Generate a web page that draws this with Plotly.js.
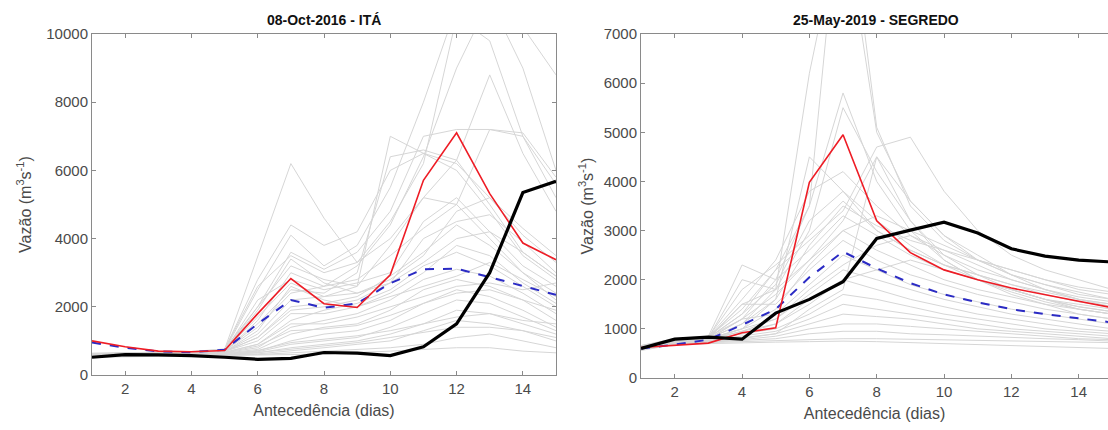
<!DOCTYPE html>
<html>
<head>
<meta charset="utf-8">
<script src="https://cdn.plot.ly/plotly-3.0.1.min.js"></script>
<style>html,body{margin:0;padding:0;background:#fff;}#chart{width:1108px;height:430px;}</style>
</head>
<body>
<div id="chart"></div>
<script>
// ---- Data ----
const days = [1,2,3,4,5,6,7,8,9,10,11,12,13,14,15];
const xTicks = [2,4,6,8,10,12,14];

const titleIta = "08-Oct-2016 - ITÁ";
const titleSegredo = "25-May-2019 - SEGREDO";
const xTitle = "Antecedência (dias)";
const yTitle = "Vazão (m<sup>3</sup>s<sup>-1</sup>)";

// ITÁ
const itaObserved = [520,600,590,570,520,460,490,660,640,570,830,1500,3000,5350,5680];
const itaForecast = [1000,830,700,680,720,1800,2830,2090,1980,2940,5710,7100,5320,3870,3380];
const itaMean     = [950,800,690,670,740,1500,2200,1970,2100,2690,3100,3120,2870,2620,2350];
const itaMembers = [
  [620,640,650,680,750,3500,6200,4600,3300,4500,6200,10500,9800,7000,5200],
  [600,620,630,650,720,2500,4100,3200,3800,5500,8000,10800,10500,10200,8800],
  [640,660,660,680,760,2600,3500,3000,3300,4000,5200,6300,8800,6500,4800],
  [580,600,610,630,680,1600,3000,2600,2800,3500,4300,5000,7200,7100,5800],
  [600,620,640,660,700,2000,3200,2800,2600,7000,6500,6000,4800,3500,2800],
  [620,640,650,660,700,1500,2500,2400,3000,6400,6600,6300,5000,3600,2900],
  [590,610,620,640,690,1200,2200,2300,2600,3800,5200,5000,4000,3000,2400],
  [610,630,640,650,690,1100,2000,2100,2300,2900,3600,4400,3800,3000,2200],
  [600,610,620,630,670,900,1600,1900,2100,2500,3200,3600,3200,2600,2000],
  [580,600,610,620,650,800,1400,1600,1800,2200,2800,3100,2900,2400,1800],
  [570,590,600,610,640,750,1200,1400,1500,1900,2500,2800,2600,2200,1600],
  [560,580,590,600,630,700,1000,1200,1300,1600,2100,2500,2300,1900,1400],
  [550,570,580,590,610,680,900,1000,1100,1400,1800,2200,2100,1700,1300],
  [560,570,580,590,600,650,800,900,1000,1200,1500,1900,1800,1500,1200],
  [540,550,560,570,590,620,700,800,900,1000,1300,1600,1500,1300,1000],
  [530,540,550,560,570,600,650,700,750,800,900,1100,1200,1000,800],
  [520,530,540,550,560,580,600,620,650,700,750,800,800,700,650],
  [600,620,640,660,700,2200,2800,2500,2700,3000,4500,5200,4200,3200,2600],
  [610,630,650,670,720,1900,3400,2700,2400,2800,3500,4800,5200,4100,3300],
  [590,600,620,640,680,1300,2600,2200,2000,2400,3000,3800,3500,2700,2100],
  [600,610,620,640,690,1000,1800,1800,2000,2300,2600,2900,3300,2800,2300],
  [580,590,600,620,660,900,1500,1500,1700,2000,2300,2600,2700,2500,2700],
  [620,640,660,680,740,2800,4400,3800,4200,6000,6500,6200,5200,4300,3500],
  [630,650,660,690,760,2000,3600,3100,3600,4800,7000,7200,7200,7000,5600],
  [590,610,620,640,700,1400,2400,2600,3200,4400,6400,9000,11000,9000,6000],
  [600,610,630,650,690,1100,1900,2000,2200,2700,3300,4000,4200,3600,2900],
  [570,590,600,620,650,850,1300,1350,1450,1750,2100,2400,2500,2200,1900],
  [560,580,590,600,620,720,950,1050,1150,1300,1500,1700,1800,1600,1500],
  [550,560,570,580,600,660,750,850,950,1100,1250,1400,1400,1300,1100],
  [610,630,640,660,710,1700,2700,2300,2400,2700,4000,4500,4700,3900,3000]
];

// SEGREDO
const segObserved = [600,790,830,790,1320,1600,1960,2840,3010,3170,2950,2630,2480,2400,2360];
const segForecast = [620,670,710,920,1020,3980,4950,3200,2550,2200,2000,1830,1690,1560,1430];
const segMean     = [600,680,780,1080,1400,2050,2570,2230,1930,1700,1540,1400,1300,1210,1130];
const segMembers = [
  [650,780,820,1500,1800,6200,9500,5000,3600,2900,2500,2100,1800,1600,1450],
  [620,760,800,1200,2000,3500,10500,5100,3500,2800,2400,2100,1900,1750,1600],
  [640,770,810,1300,2200,3500,5800,4000,3000,2400,2000,1700,1500,1300,1200],
  [630,760,800,1100,1800,3000,5500,4200,3200,2500,2100,1800,1600,1400,1300],
  [620,760,800,1000,1600,4500,3800,3200,2700,2300,2000,1800,1600,1450,1350],
  [640,780,830,1400,2200,2800,3400,4700,4900,3800,3000,2500,2200,2000,1800],
  [650,790,840,1200,1700,2400,3200,4500,3600,2900,2400,2100,1900,1700,1600],
  [660,800,850,2300,2000,2600,3300,2900,2500,2200,2000,1800,1600,1500,1400],
  [640,780,820,2000,1800,2400,3000,2600,2300,2000,1800,1650,1500,1400,1300],
  [630,770,800,1500,1500,2200,2800,2400,2100,1900,1700,1550,1400,1300,1200],
  [620,760,790,1200,1300,1900,2500,2200,1900,1700,1550,1400,1300,1200,1100],
  [610,750,780,1000,1200,1700,2200,2000,1800,1600,1450,1300,1200,1100,1000],
  [600,740,770,950,1100,1500,2000,1800,1600,1450,1300,1200,1100,1000,950],
  [600,740,770,900,1000,1300,1700,1600,1450,1300,1200,1100,1000,950,900],
  [590,730,760,850,950,1200,1500,1400,1300,1200,1100,1000,950,900,850],
  [590,720,750,800,900,1100,1300,1250,1200,1100,1000,950,900,850,800],
  [580,710,740,780,850,1000,1100,1100,1050,1000,950,900,850,800,780],
  [580,700,730,760,800,900,950,950,900,880,850,820,800,780,750],
  [570,690,720,740,760,780,800,800,790,780,770,760,750,740,720],
  [650,790,830,1600,2400,3800,4200,3500,2900,2500,2200,2000,1800,1650,1550],
  [640,780,820,1300,1900,3200,3800,3000,2600,2300,2100,1900,1750,1600,1500],
  [630,770,810,1100,1600,2700,3500,3100,2800,2600,2400,2200,2000,1850,1750],
  [620,760,800,1000,1400,2300,3000,3300,3000,2700,2400,2200,2000,1800,1700],
  [610,750,790,950,1200,1800,2300,2700,2900,2600,2300,2000,1800,1600,1500],
  [600,740,780,900,1100,1600,2000,2200,2400,2200,2000,1800,1600,1450,1350],
  [660,790,830,1800,2300,2900,3600,3000,2600,2300,2100,1900,1700,1550,1450],
  [560,680,700,720,730,740,750,740,720,700,680,660,640,620,600],
  [600,730,760,820,900,1400,1800,4500,3200,2400,2000,1750,1550,1400,1300]
];

// ---- Traces ----
const gray = 'rgb(214,214,214)';
const traces = [];
function addSet(members, obs, fc, mean, xa, ya) {
  members.forEach(m => traces.push({x: days, y: m, xaxis: xa, yaxis: ya, type: 'scatter', mode: 'lines',
    line: {color: gray, width: 1}, hoverinfo: 'skip', showlegend: false}));
  traces.push({x: days, y: mean, xaxis: xa, yaxis: ya, type: 'scatter', mode: 'lines',
    line: {color: '#2b2bc4', width: 2, dash: 'dash'}, showlegend: false});
  traces.push({x: days, y: fc, xaxis: xa, yaxis: ya, type: 'scatter', mode: 'lines',
    line: {color: '#ee1c25', width: 1.6}, showlegend: false});
  traces.push({x: days, y: obs, xaxis: xa, yaxis: ya, type: 'scatter', mode: 'lines',
    line: {color: '#000000', width: 3.2}, showlegend: false});
}
addSet(itaMembers, itaObserved, itaForecast, itaMean, 'x', 'y');
addSet(segMembers, segObserved, segForecast, segMean, 'x2', 'y2');

const font = {family: 'Liberation Sans, Arial, sans-serif', size: 15, color: '#3a3a3a'};
const axCommon = {showline: true, linecolor: '#8a8a8a', linewidth: 1, ticks: 'inside', ticklen: 4,
  tickcolor: '#8a8a8a', showgrid: false, zeroline: false, tickformat: 'd',
  tickfont: {size: 15, color: '#4a4a4a'}};
const xTitleFont = {size: 16, color: '#4a4a4a'};

const layout = {
  width: 1108, height: 430,
  margin: {l: 92, r: 0, t: 34, b: 52},
  paper_bgcolor: '#fff', plot_bgcolor: '#fff',
  font: font,
  showlegend: false,
  xaxis: Object.assign({}, axCommon, {domain: [0, 0.4567], range: [1, 15], tickvals: xTicks, mirror: 'ticks',
    anchor: 'y', title: {text: xTitle, font: xTitleFont, standoff: 8}}),
  yaxis: Object.assign({}, axCommon, {domain: [0.0087, 1], range: [0, 10000], dtick: 2000, mirror: 'ticks',
    anchor: 'x', title: {text: yTitle, font: xTitleFont, standoff: 10}}),
  xaxis2: Object.assign({}, axCommon, {domain: [0.5404, 1], range: [1, 14.87], tickvals: xTicks, mirror: 'ticks',
    anchor: 'y2', title: {text: xTitle, font: xTitleFont, standoff: 8}}),
  yaxis2: Object.assign({}, axCommon, {domain: [0, 1], range: [0, 7000], dtick: 1000, mirror: false,
    anchor: 'x2', title: {text: yTitle, font: xTitleFont, standoff: 6}}),
  annotations: [
    {text: '<b>' + titleIta + '</b>', xref: 'x domain', yref: 'paper', x: 0.5, y: 1, yanchor: 'bottom', yshift: 4,
      showarrow: false, font: {size: 14, color: '#111'}},
    {text: '<b>' + titleSegredo + '</b>', xref: 'paper', yref: 'paper', x: (876 - 92) / 1016, xanchor: 'center',
      y: 1, yanchor: 'bottom', yshift: 4, showarrow: false, font: {size: 14, color: '#111'}}
  ]
};

Plotly.newPlot('chart', traces, layout, {displayModeBar: false, staticPlot: true});
</script>
</body>
</html>
